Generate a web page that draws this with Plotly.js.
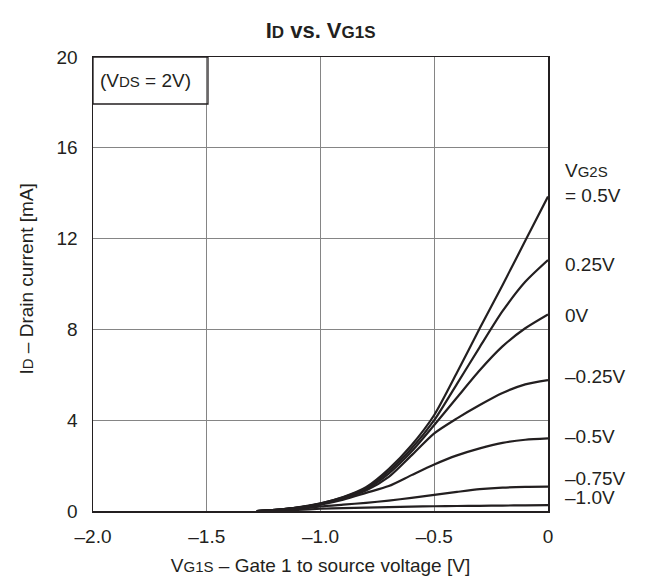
<!DOCTYPE html>
<html>
<head>
<meta charset="utf-8">
<script src="https://cdn.plot.ly/plotly-3.0.1.min.js"></script>
<style>html,body{margin:0;padding:0;background:#fff;}#chart{width:649px;height:576px;}</style>
</head>
<body>
<div id="chart"></div>
<script>
// Gate 1 to source voltage [V]
const vg1s = [-1.28, -1.2, -1.1, -1.0, -0.9, -0.8, -0.7, -0.6, -0.5, -0.4, -0.3, -0.2, -0.1, 0];

// Drain current [mA] for each VG2S
const id_p050 = [0, 0.05, 0.16, 0.34, 0.62, 1.05, 1.85, 2.90, 4.23, 6.10, 8.05, 9.95, 11.90, 13.85];
const id_p025 = [0, 0.05, 0.15, 0.33, 0.60, 1.00, 1.75, 2.75, 4.00, 5.60, 7.22, 8.80, 10.10, 11.06];
const id_p000 = [0, 0.05, 0.15, 0.32, 0.58, 0.96, 1.65, 2.62, 3.79, 5.00, 6.20, 7.25, 8.05, 8.66];
const id_m025 = [0, 0.04, 0.14, 0.31, 0.55, 0.90, 1.50, 2.45, 3.42, 4.08, 4.67, 5.20, 5.58, 5.77];
const id_m050 = [0, 0.04, 0.13, 0.28, 0.50, 0.80, 1.10, 1.58, 2.05, 2.45, 2.76, 3.00, 3.14, 3.20];
const id_m075 = [0, 0.03, 0.09, 0.20, 0.28, 0.36, 0.46, 0.58, 0.71, 0.84, 0.96, 1.03, 1.06, 1.07];
const id_m100 = [0, 0.02, 0.05, 0.10, 0.13, 0.15, 0.17, 0.19, 0.21, 0.22, 0.23, 0.24, 0.25, 0.26];

const seriesValues = [id_p050, id_p025, id_p000, id_m025, id_m050, id_m075, id_m100];
const seriesLabels = ["V<span style=\"font-size:15px\">G2S</span><br>= 0.5V", "0.25V", "0V",
                      "\u20130.25V", "\u20130.5V", "\u20130.75V", "\u20131.0V"];
const labelShift = [14, -5, -1, 4, 2, 8, 8];

const xTickVals = [-2.0, -1.5, -1.0, -0.5, 0];
const xTickText = ["\u20132.0", "\u20131.5", "\u20131.0", "\u20130.5", "0"];
const yTickVals = [0, 4, 8, 12, 16, 20];

const ink = "#231f20";
const FONT = "Liberation Sans, Arial, Helvetica, sans-serif";
const FS = 19;

const traces = seriesValues.map((vals) => ({
  x: vg1s, y: vals, type: "scatter", mode: "lines",
  line: {color: ink, width: 2.2, shape: "spline", smoothing: 0.7},
  hoverinfo: "skip", showlegend: false
}));

const sub = s => '<span style="font-size:15px">' + s + '</span>';
const annotations = seriesValues.map((vals, i) => ({
  xref: "paper", yref: "y", x: 1, y: vals[vals.length - 1],
  xanchor: "left", yanchor: "middle", align: "left", xshift: 15, yshift: labelShift[i],
  text: seriesLabels[i], showarrow: false,
  font: {family: FONT, size: FS, color: ink}
}));
annotations.push({
  xref: "paper", yref: "paper", x: 0.011, y: 0.949, xanchor: "left", yanchor: "middle",
  text: "(V" + sub("DS") + " = 2V)", showarrow: false,
  font: {family: FONT, size: FS, color: ink}
});
// y-axis title
annotations.push({
  xref: "paper", yref: "paper", x: -0.147, y: 0.51, xanchor: "center", yanchor: "middle",
  textangle: -90, text: "I" + sub("D") + " \u2013 Drain current [mA]", showarrow: false,
  font: {family: FONT, size: FS, color: ink}
});

const layout = {
  width: 649, height: 576,
  margin: {l: 93, r: 101, t: 57, b: 65},
  paper_bgcolor: "#fff", plot_bgcolor: "#fff",
  font: {family: FONT, size: FS, color: ink},
  title: {
    text: '<b>I<span style="font-size:17px">D</span> vs. V<span style="font-size:17px">G1S</span></b>',
    x: 0.494, xanchor: "center", y: 0.948, yanchor: "middle",
    font: {family: FONT, size: 22, color: ink}
  },
  xaxis: {
    range: [-2, 0], tickvals: xTickVals, ticktext: xTickText,
    showgrid: true, gridcolor: "#858585", gridwidth: 1, zeroline: false,
    showline: true, linecolor: ink, linewidth: 1.5, mirror: true,
    ticks: "", ticklabelstandoff: 8,
    title: {text: "V" + sub("G1S") + " \u2013 Gate 1 to source voltage [V]", standoff: 12,
            font: {size: FS, color: ink}}
  },
  yaxis: {
    range: [0, 20], tickvals: yTickVals,
    showgrid: true, gridcolor: "#858585", gridwidth: 1, zeroline: false,
    showline: true, linecolor: ink, linewidth: 1.5, mirror: true,
    ticks: "", ticklabelstandoff: 10
  },
  shapes: [{
    type: "rect", xref: "paper", yref: "paper",
    x0: 0, x1: 0.2527, y0: 1 - 47 / 454, y1: 1,
    line: {color: ink, width: 1.3}, fillcolor: "rgba(0,0,0,0)"
  }],
  annotations: annotations
};

Plotly.newPlot("chart", traces, layout, {displayModeBar: false, staticPlot: true});
</script>
</body>
</html>
